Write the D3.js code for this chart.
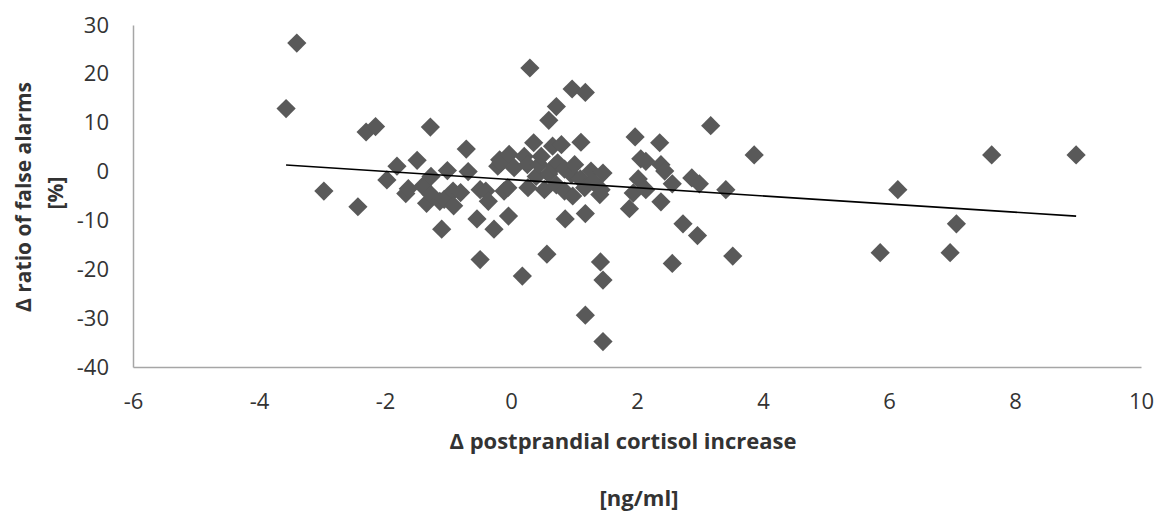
<!DOCTYPE html>
<html>
<head>
<meta charset="utf-8">
<script src="https://cdn.jsdelivr.net/npm/d3@7"></script>
<style>
  body { margin: 0; background: #fff; }
  text { font-family: "Open Sans", "Noto Sans", sans-serif; fill: #333; }
</style>
</head>
<body>
<div class="scatterChart"></div>
<script>
var width = 1158,
    height = 515;

// values
var cortisol = [-3.57, -3.40, -2.97, -2.43, -2.30, -2.15, -1.97, -1.81, -1.67, -1.63,
  -1.49, -1.40, -1.34, -1.28, -1.27, -1.27, -1.13, -1.10, -1.06, -1.01,
  -0.92, -0.91, -0.80, -0.71, -0.68, -0.54, -0.49, -0.49, -0.40, -0.36,
  -0.27, -0.21, -0.18, -0.16, -0.11, -0.05, -0.04, -0.03, 0.05, 0.18,
  0.21, 0.26, 0.27, 0.30, 0.36, 0.40, 0.45, 0.48, 0.53, 0.57,
  0.60, 0.60, 0.66, 0.69, 0.72, 0.72, 0.74, 0.80, 0.85, 0.85,
  0.86, 0.96, 0.97, 0.98, 1.01, 1.10, 1.11, 1.17, 1.18, 1.18,
  1.18, 1.27, 1.30, 1.41, 1.42, 1.43, 1.46, 1.46, 1.46, 1.88,
  1.94, 1.97, 2.02, 2.06, 2.14, 2.14, 2.36, 2.38, 2.38, 2.44,
  2.56, 2.56, 2.73, 2.87, 2.96, 2.99, 3.17, 3.41, 3.52, 3.86,
  5.86, 6.14, 6.97, 7.07, 7.63, 8.97];

var falseAlarms = [12.9, 26.3, -4.0, -7.2, 8.1, 9.2, -1.7, 1.1, -4.5, -3.5,
  2.3, -3.0, -6.5, 9.1, -1.0, -4.7, -6.1, -11.8, -5.7, 0.2,
  -4.0, -7.0, -4.3, 4.6, 0.0, -9.7, -3.7, -18.0, -4.0, -6.1,
  -11.8, 1.1, 2.4, 1.8, -4.0, -3.3, -9.1, 3.5, 0.8, -21.4,
  3.1, 1.4, -3.3, 21.2, 5.9, -1.0, 1.4, 3.1, -3.7, -16.9,
  10.5, -0.5, 5.2, 1.1, 13.3, -2.7, 1.8, 5.5, -4.0, 0.5,
  -9.7, -0.6, 16.9, -5.0, 1.4, -1.5, 6.0, -3.3, 16.2, -8.6,
  -29.4, 0.1, -2.0, -4.7, -18.5, -3.7, -0.3, -22.2, -34.8, -7.6,
  -4.4, 7.1, -1.5, 2.6, 2.1, -3.7, 5.9, 1.4, -6.2, 0.1,
  -2.5, -18.8, -10.7, -1.3, -13.1, -2.5, 9.4, -3.7, -17.3, 3.4,
  -16.6, -3.7, -16.6, -10.7, 3.4, 3.4];

var xTicks = [-6, -4, -2, 0, 2, 4, 6, 8, 10];
var yTicks = [30, 20, 10, 0, -10, -20, -30, -40];

var points = cortisol.map(function(d, i) { return [d, falseAlarms[i]]; });

var margin = {left: 133, right: 17, top: 25, bottom: 148};

var x = d3.scaleLinear()
  .domain([-6, 10])
  .range([margin.left, width - margin.right]);

var y = d3.scaleLinear()
  .domain([-40, 30])
  .range([height - margin.bottom, margin.top]);

var svg = d3.select(".scatterChart")
  .append("svg")
  .attr("width", width)
  .attr("height", height);

// plain hyphen for negatives, like the original
var fmt = function(d) { return String(d); };

// axes
var xAxis = svg.append("g")
  .attr("transform", "translate(0," + y(-40) + ")")
  .call(d3.axisBottom(x).tickValues(xTicks).tickFormat(fmt).tickSize(0).tickPadding(26));

var yAxis = svg.append("g")
  .attr("transform", "translate(" + x(-6) + ",0)")
  .call(d3.axisLeft(y).tickValues(yTicks).tickFormat(fmt).tickSize(0).tickPadding(24));

[xAxis, yAxis].forEach(function(a) {
  a.select(".domain").attr("stroke", "#a6a6a6").attr("stroke-width", 1.5);
  a.selectAll("text")
    .attr("font-size", "22px")
    .attr("fill", "#333")
    .style("font-family", "'Open Sans', sans-serif");
});

// linear trend line (least squares)
var mx = d3.mean(cortisol), my = d3.mean(falseAlarms);
var sxy = d3.sum(points, function(p) { return (p[0] - mx) * (p[1] - my); });
var sxx = d3.sum(points, function(p) { return (p[0] - mx) * (p[0] - mx); });
var slope = sxy / sxx, intercept = my - slope * mx;
var ext = d3.extent(cortisol);

// diamonds
var diamond = d3.symbol().type(d3.symbolSquare).size(185);

svg.append("g")
  .selectAll("path")
  .data(points)
  .enter()
  .append("path")
  .attr("d", diamond)
  .attr("fill", "#595959")
  .attr("transform", function(d) {
    return "translate(" + x(d[0]) + "," + y(d[1]) + ") rotate(45)";
  });

svg.append("line")
  .attr("x1", x(ext[0]))
  .attr("y1", y(slope * ext[0] + intercept))
  .attr("x2", x(ext[1]))
  .attr("y2", y(slope * ext[1] + intercept))
  .attr("stroke", "#000")
  .attr("stroke-width", 1.6);

// axis titles
svg.append("text")
  .attr("x", 623)
  .attr("y", 449)
  .attr("text-anchor", "middle")
  .attr("font-size", "22px")
  .attr("font-weight", "bold")
  .text("Δ postprandial cortisol increase");

svg.append("text")
  .attr("x", 639)
  .attr("y", 506)
  .attr("text-anchor", "middle")
  .attr("font-size", "22px")
  .attr("font-weight", "bold")
  .text("[ng/ml]");

svg.append("text")
  .attr("transform", "translate(31,197) rotate(-90)")
  .attr("text-anchor", "middle")
  .attr("font-size", "21px")
  .attr("font-weight", "bold")
  .text("Δ ratio of false alarms");

svg.append("text")
  .attr("transform", "translate(63,193) rotate(-90)")
  .attr("text-anchor", "middle")
  .attr("font-size", "21px")
  .attr("font-weight", "bold")
  .text("[%]");
</script>
</body>
</html>
